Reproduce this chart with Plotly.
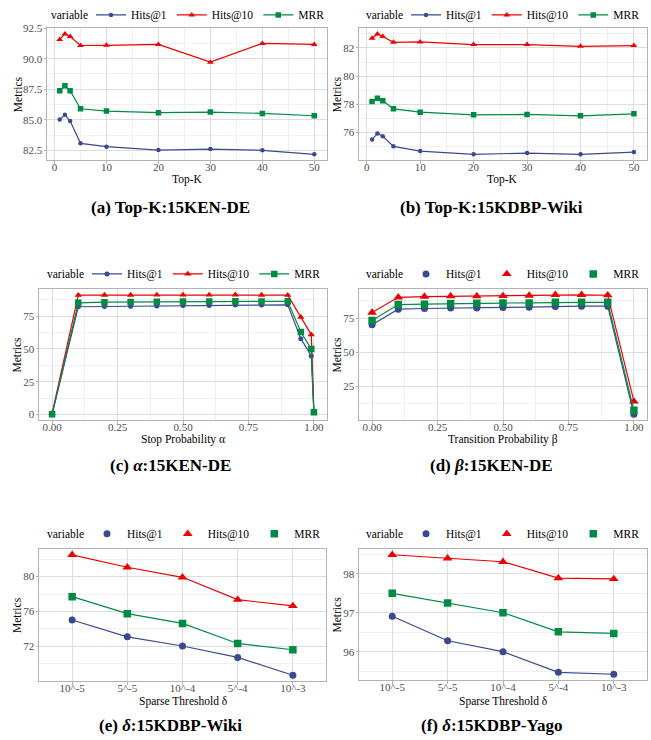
import plotly.graph_objects as go

W, H = 651, 740

# ---------------- data ----------------
series_names = ["Hits@1", "Hits@10", "MRR"]

# (a) Top-K : 15KEN-DE
topk = [1, 2, 3, 5, 10, 20, 30, 40, 50]
a_hits1 = [85.03, 85.41, 84.90, 83.07, 82.80, 82.52, 82.60, 82.50, 82.17]
a_hits10 = [91.58, 92.03, 91.82, 91.08, 91.10, 91.17, 89.72, 91.25, 91.17]
a_mrr = [87.38, 87.78, 87.38, 85.90, 85.71, 85.58, 85.63, 85.52, 85.33]

# (b) Top-K : 15KDBP-Wiki
b_hits1 = [75.49, 75.92, 75.71, 75.00, 74.66, 74.43, 74.52, 74.43, 74.59]
b_hits10 = [82.69, 83.00, 82.81, 82.40, 82.43, 82.24, 82.24, 82.12, 82.17]
b_mrr = [78.19, 78.43, 78.24, 77.67, 77.43, 77.24, 77.27, 77.17, 77.31]

# (c) alpha : 15KEN-DE
alpha = [0, 0.1, 0.2, 0.3, 0.4, 0.5, 0.6, 0.7, 0.8, 0.9, 0.95, 0.99, 1.0]
c_hits1 = [0.2, 82.1, 82.3, 82.5, 82.7, 83.0, 83.0, 83.4, 83.4, 83.6, 57.8, 44.7, 1.5]
c_hits10 = [1.0, 90.9, 91.0, 91.0, 91.1, 91.1, 91.1, 91.2, 91.0, 90.9, 74.2, 60.8, 1.8]
c_mrr = [0.3, 85.1, 85.6, 85.7, 85.9, 86.1, 86.1, 86.3, 86.1, 86.3, 62.9, 50.0, 1.8]

# (d) beta : 15KEN-DE
beta = [0, 0.1, 0.2, 0.3, 0.4, 0.5, 0.6, 0.7, 0.8, 0.9, 1.0]
d_hits1 = [70.2, 81.5, 82.0, 82.4, 82.4, 82.8, 83.0, 83.5, 83.7, 83.7, 4.8]
d_hits10 = [79.1, 90.2, 90.7, 91.0, 91.0, 91.2, 91.5, 92.0, 92.0, 91.7, 14.2]
d_mrr = [73.3, 84.9, 85.2, 85.6, 85.8, 86.0, 86.1, 86.5, 86.5, 86.5, 7.7]

# (e) delta : 15KDBP-Wiki  /  (f) delta : 15KDBP-Yago
delta = ["10^-5", "5^-5", "10^-4", "5^-4", "10^-3"]
e_hits1 = [75.03, 73.10, 72.05, 70.74, 68.70]
e_hits10 = [82.50, 81.07, 79.92, 77.36, 76.64]
e_mrr = [77.70, 75.75, 74.64, 72.34, 71.62]

f_hits1 = [96.91, 96.28, 96.00, 95.47, 95.42]
f_hits10 = [98.49, 98.40, 98.31, 97.89, 97.87]
f_mrr = [97.50, 97.25, 97.00, 96.51, 96.47]

# ---------------- styling ----------------
COLORS = ["#3B4992", "#EE0000", "#008B45"]
SYMBOLS = ["circle", "triangle-up", "square"]
FONT = "Liberation Serif"
GRID = "#DEDEDE"
MINOR = "#EBEBEB"
BORDER = "#B3B3B3"
TICKTXT = "#4D4D4D"


def fx(px):
    return px / W


def fy(py):
    return 1 - py / H


panels = [
    dict(x=topk, ys=(a_hits1, a_hits10, a_mrr), box=(47, 327, 25, 158),
         xtitle="Top-K", xd=10, xm=5, yd=2.5, ym=1.25, yfmt=".1f", xfmt="d",
         ms=(4.5, 6, 5.5), legline=True, legy=12, varx=90, ytx=18, xty=177,
         cap="<b>(a) Top-K:15KEN-DE</b>", capx=170, capy=207),
    dict(x=topk, ys=(b_hits1, b_hits10, b_mrr), box=(359, 647, 25, 158),
         xtitle="Top-K", xd=10, xm=5, yd=2, ym=1, yfmt="d", xfmt="d",
         ms=(4.5, 6, 5.5), legline=True, legy=12, varx=405, ytx=337, xty=177,
         cap="<b>(b) Top-K:15KDBP-Wiki</b>", capx=491, capy=207),
    dict(x=alpha, ys=(c_hits1, c_hits10, c_mrr), box=(39, 327, 287, 419),
         xtitle="Stop Probability α", xd=0.25, xm=0.125, yd=25, ym=12.5, yfmt="d", xfmt=".2f",
         ms=(5, 6.5, 6.5), legline=True, legy=272, varx=86, ytx=17, xty=438,
         cap="<b>(c) <i>α</i>:15KEN-DE</b>", capx=170, capy=466),
    dict(x=beta, ys=(d_hits1, d_hits10, d_mrr), box=(359, 647, 287, 419),
         xtitle="Transition Probability β", xd=0.25, xm=0.125, yd=25, ym=12.5, yfmt="d", xfmt=".2f",
         ms=(7, 8.5, 7.5), legline=False, legy=272, varx=405, ytx=337, xty=438,
         cap="<b>(d) <i>β</i>:15KEN-DE</b>", capx=491, capy=466),
    dict(x=delta, ys=(e_hits1, e_hits10, e_mrr), box=(39, 326, 548, 681),
         xtitle="Sparse Threshold δ", xd=None, xm=None, yd=4, ym=2, yfmt="d", xfmt=None,
         ms=(7, 8.5, 7.5), legline=False, legy=533, varx=86, ytx=17, xty=701,
         cap="<b>(e) <i>δ</i>:15KDBP-Wiki</b>", capx=170, capy=727),
    dict(x=delta, ys=(f_hits1, f_hits10, f_mrr), box=(359, 647, 548, 680),
         xtitle="Sparse Threshold δ", xd=None, xm=None, yd=1, ym=0.5, yfmt="d", xfmt=None,
         ms=(7, 8.5, 7.5), legline=False, legy=533, varx=405, ytx=337, xty=701,
         cap="<b>(f) <i>δ</i>:15KDBP-Yago</b>", capx=491, capy=727),
]


def expand(vals, frac=0.05):
    lo, hi = min(vals), max(vals)
    pad = (hi - lo) * frac
    return [lo - pad, hi + pad]


fig = go.Figure()
layout = dict(width=W, height=H, margin=dict(l=0, r=0, t=0, b=0),
              paper_bgcolor="white", plot_bgcolor="white",
              font=dict(family=FONT, color="black", size=11),
              annotations=[])


def ann(text, px, py, size, angle=0, xanchor="center"):
    layout["annotations"].append(dict(
        text=text, x=fx(px), y=fy(py), xref="paper", yref="paper",
        xanchor=xanchor, yanchor="middle", showarrow=False, textangle=angle,
        font=dict(family=FONT, size=size, color="black")))


for i, p in enumerate(panels):
    n = "" if i == 0 else str(i + 1)
    xa, ya = "x" + n, "y" + n
    leg = "legend" + n
    l, r, t, b = p["box"]
    for j in range(3):
        common = dict(x=p["x"], y=p["ys"][j], xaxis=xa, yaxis=ya, name=series_names[j],
                      legend=leg, legendgroup=f"{i}-{j}", hoverinfo="skip")
        mk = dict(color=COLORS[j], symbol=SYMBOLS[j], size=p["ms"][j])
        if p["legline"]:
            fig.add_trace(go.Scatter(mode="lines+markers", line=dict(color=COLORS[j], width=1.2),
                                     marker=mk, showlegend=True, **common))
        else:
            fig.add_trace(go.Scatter(mode="lines", line=dict(color=COLORS[j], width=1.2),
                                     showlegend=False, **common))
            fig.add_trace(go.Scatter(mode="markers", marker=mk, showlegend=True, **common))

    allv = [v for s in p["ys"] for v in s]
    yax = dict(domain=[fy(b), fy(t)], anchor=xa, range=expand(allv),
               dtick=p["yd"], tick0=0, tickformat=p["yfmt"],
               showgrid=True, gridcolor=GRID, gridwidth=1,
               minor=dict(dtick=p["ym"], tick0=0, showgrid=True, gridcolor=MINOR, gridwidth=0.7),
               showline=True, mirror=True, linecolor=BORDER, linewidth=1,
               ticks="outside", ticklen=2.5, tickcolor=BORDER, tickwidth=1,
               ticklabelstandoff=-1,
               tickfont=dict(family=FONT, size=11, color=TICKTXT),
               zeroline=False, automargin=False)
    xax = dict(domain=[fx(l), fx(r)], anchor=ya,
               showgrid=True, gridcolor=GRID, gridwidth=1,
               showline=True, mirror=True, linecolor=BORDER, linewidth=1,
               ticks="outside", ticklen=2.5, tickcolor=BORDER, tickwidth=1,
               ticklabelstandoff=-6,
               tickfont=dict(family=FONT, size=11, color=TICKTXT),
               zeroline=False, automargin=False)
    if p["xd"] is not None:
        xax.update(range=expand(p["x"]), dtick=p["xd"], tick0=0, tickformat=p["xfmt"],
                   minor=dict(dtick=p["xm"], tick0=0, showgrid=True, gridcolor=MINOR, gridwidth=0.7))
    else:
        xax.update(type="category", range=[-0.6, len(p["x"]) - 0.4])
    layout["xaxis" + n] = xax
    layout["yaxis" + n] = yax
    layout[leg] = dict(orientation="h", x=fx(p["varx"] + 1), xanchor="left",
                       y=fy(p["legy"]), yanchor="middle",
                       font=dict(family=FONT, size=11.5, color="black"),
                       bgcolor="rgba(0,0,0,0)", itemwidth=30)
    # legend title, axis titles and sub-figure caption
    ann("variable", p["varx"], p["legy"], 11.5, xanchor="right")
    ann("Metrics", p["ytx"], (t + b) / 2, 11.5, angle=-90)
    ann(p["xtitle"], (l + r) / 2, p["xty"], 11.5)
    ann(p["cap"], p["capx"], p["capy"] - 2, 17)

fig.update_layout(**layout, hovermode=False)
fig.write_html("out.html", config={"displayModeBar": False, "staticPlot": True},
               post_script="document.body.style.margin='0px';")
